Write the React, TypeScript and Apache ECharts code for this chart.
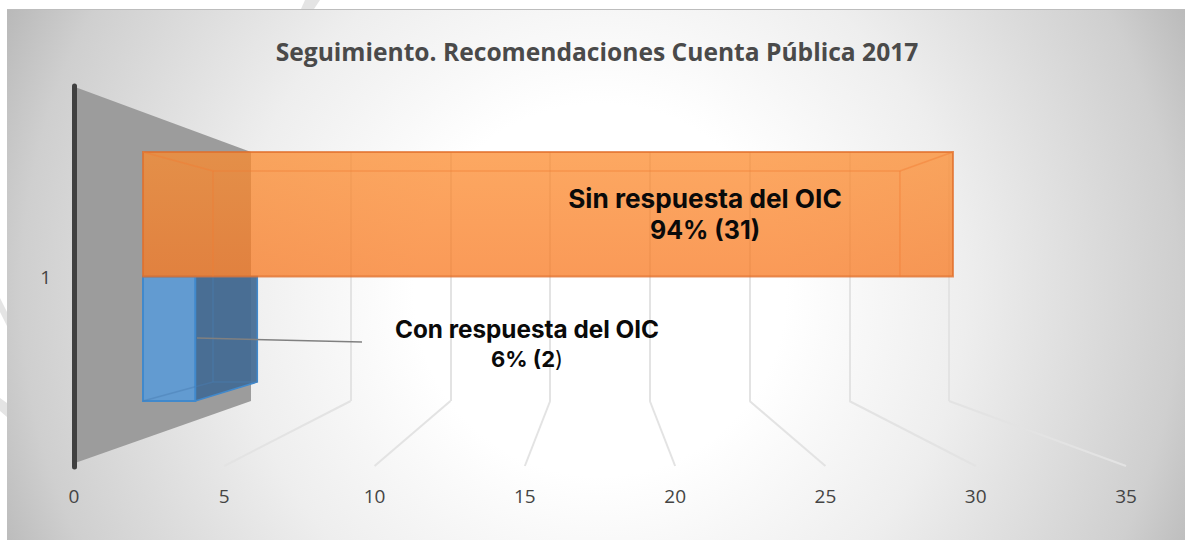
import React, { useEffect, useRef } from "react";
import * as echarts from "echarts";

const chartTitle = "Seguimiento. Recomendaciones Cuenta Pública 2017";
const categories = ["1"];
const xTicks = [5, 10, 15, 20, 25, 30, 35];
const answeredValue = [2];
const unansweredValue = [31];
const answeredLabel = "Con respuesta del OIC";
const unansweredLabel = "Sin respuesta del OIC";
const answeredPct = "6% (2";
const unansweredPct = "94% (31)";

const FRONT = { left: 74, top: 86, width: 1052, height: 381 };
const BACK = { left: 251, top: 152, width: 698, height: 249 };
const BARS = { left: 143, top: 152, width: 914.5, height: 249 };
const BAR_BACK_LEFT = 213;
const BAR_BACK_SCALE = 22.16 / 26.13;
const DEPTH_Y = 19;

const renderBar = (half: "top" | "bottom", look: any) => (_p: any, api: any) => {
  const v = api.value(0);
  const [x1, cy] = api.coord([v, 0]);
  const [x0] = api.coord([0, 0]);
  const band = api.size([0, 1])[1];
  const yTop = half === "top" ? cy - band / 2 : cy;
  const yBot = half === "top" ? cy : cy + band / 2;
  const bx0 = BAR_BACK_LEFT;
  const bx1 = BAR_BACK_LEFT + (x1 - x0) * BAR_BACK_SCALE;
  const inner = { stroke: look.inner, lineWidth: 1.5, fill: "none" };
  const line = (a: number, b: number, c: number, d: number) => ({
    type: "line",
    shape: { x1: a, y1: b, x2: c, y2: d },
    style: inner,
  });
  const children: any[] = [];
  if (half === "bottom") {
    children.push({
      type: "polygon",
      shape: { points: [[x1, yTop], [bx1, yTop], [bx1, yBot - DEPTH_Y], [x1, yBot]] },
      style: { fill: look.side, stroke: look.edge, lineWidth: 1.5 },
    });
    children.push(line(bx0, yTop, bx0, yBot - DEPTH_Y));
    children.push(line(x1, yBot - (DEPTH_Y * (x1 - x0)) / (bx0 - x0), bx0, yBot - DEPTH_Y));
    children.push(line(bx0, yBot - DEPTH_Y, bx1, yBot - DEPTH_Y));
  }
  children.push({
    type: "rect",
    shape: { x: x0, y: yTop, width: x1 - x0, height: yBot - yTop },
    style: { fill: look.front, stroke: look.edge, lineWidth: look.edgeWidth },
  });
  if (half === "bottom") {
    children.push(line(x0, yBot, x1, yBot - (DEPTH_Y * (x1 - x0)) / (bx0 - x0)));
  }
  if (half === "top") {
    children.push(line(x0, yTop, bx0, yTop + DEPTH_Y));
    children.push(line(x1, yTop, bx1, yTop + DEPTH_Y));
    children.push(line(bx0, yTop + DEPTH_Y, bx1, yTop + DEPTH_Y));
    children.push(line(bx0, yTop + DEPTH_Y, bx0, yBot));
    children.push(line(bx1, yTop + DEPTH_Y, bx1, yBot));
  }
  return { type: "group", children };
};

const renderFloorLine = (_p: any, api: any) => {
  const [fx] = api.coord([api.value(0), 0]);
  const bx = BACK.left + ((fx - FRONT.left) * BACK.width) / FRONT.width;
  return {
    type: "line",
    shape: { x1: bx, y1: BACK.top + BACK.height, x2: fx, y2: 466 },
    style: { stroke: "#e3e3e3", lineWidth: 2 },
  };
};

const grey = "#e4e4e4";
const labelFont = "Inter";

export default function App() {
  const ref = useRef<HTMLDivElement>(null);
  useEffect(() => {
    const chart = echarts.init(ref.current!, undefined, { renderer: "svg" });
    const hiddenX = { type: "value", min: 0, max: 35, interval: 5, show: false };
    chart.setOption({
      animation: false,
      title: {
        text: chartTitle,
        left: 592,
        top: 34,
        textAlign: "center",
        textStyle: { fontFamily: "Open Sans", fontWeight: "bold", fontSize: 24.6, color: "#4a4a4a" },
      },
      grid: [
        { ...FRONT, containLabel: false },
        { ...BACK, containLabel: false },
        { ...BARS, containLabel: false },
      ],
      xAxis: [
        {
          type: "value",
          gridIndex: 0,
          min: 0,
          max: 35,
          interval: 5,
          axisLine: { show: false },
          axisTick: { show: false },
          splitLine: { show: false },
          axisLabel: { fontFamily: "Open Sans", fontSize: 19, color: "#444444", margin: 19 },
        },
        {
          type: "value",
          gridIndex: 1,
          min: 0,
          max: 35,
          interval: 5,
          axisLine: { show: false },
          axisTick: { show: false },
          axisLabel: { show: false },
          splitLine: {
            show: true,
            showMinLine: false,
            lineStyle: { color: "#e3e3e3", width: 2 },
          },
        },
        { ...hiddenX, gridIndex: 2 },
      ],
      yAxis: [
        {
          type: "category",
          gridIndex: 0,
          data: categories,
          axisLine: { show: true, lineStyle: { color: "#404040", width: 5, cap: "round" } },
          axisTick: { show: false },
          axisLabel: { fontFamily: "Open Sans", fontSize: 19, color: "#444444", margin: 23, padding: [3, 0, 0, 0] },
        },
        { type: "category", gridIndex: 1, data: categories, show: false },
        { type: "category", gridIndex: 2, data: categories, show: false },
      ],
      series: [
        {
          type: "custom",
          name: "floor",
          xAxisIndex: 0,
          yAxisIndex: 0,
          silent: true,
          clip: false,
          z: 1,
          data: xTicks.map((v) => [v, 0]),
          renderItem: renderFloorLine,
        },
        {
          type: "custom",
          name: answeredLabel,
          xAxisIndex: 2,
          yAxisIndex: 2,
          silent: true,
          clip: false,
          z: 3,
          data: answeredValue.map((v) => [v, 0]),
          renderItem: renderBar("bottom", {
            front: "#629bd1",
            side: "rgba(66,106,148,0.92)",
            edge: "#4189cc",
            edgeWidth: 2,
            inner: "rgba(74,125,178,0.45)",
          }),
        },
        {
          type: "custom",
          name: unansweredLabel,
          xAxisIndex: 2,
          yAxisIndex: 2,
          silent: true,
          clip: false,
          z: 4,
          data: unansweredValue.map((v) => [v, 0]),
          renderItem: renderBar("top", {
            front: {
              type: "linear",
              x: 0,
              y: 0,
              x2: 0,
              y2: 1,
              colorStops: [
                { offset: 0, color: "rgba(252,139,45,0.75)" },
                { offset: 1, color: "rgba(248,120,32,0.75)" },
              ],
            },
            edge: "rgba(224,110,42,0.75)",
            edgeWidth: 2,
            inner: "rgba(242,125,50,0.45)",
          }),
        },
      ],
      graphic: [
        {
          type: "rect",
          z: -10,
          shape: { x: 7, y: 10, width: 1178, height: 530 },
          style: {
            fill: new echarts.graphic.RadialGradient(
              600,
              290,
              665,
              [
                { offset: 0, color: "#ffffff" },
                { offset: 0.28, color: "#ffffff" },
                { offset: 0.55, color: "#eeeeee" },
                { offset: 0.87, color: "#cfcfcf" },
                { offset: 1, color: "#b6b6b6" },
              ],
              true,
            ),
          },
        },
        { type: "line", z: -9, shape: { x1: 7, y1: 9.5, x2: 1185, y2: 9.5 }, style: { stroke: "#bdbdbd", lineWidth: 1 } },
        { type: "polygon", z: -9, shape: { points: [[305, 0], [320, 0], [314, 9], [301, 9]] }, style: { fill: grey } },
        { type: "polygon", z: -9, shape: { points: [[0, 298], [7, 312], [7, 326], [0, 312]] }, style: { fill: grey } },
        { type: "polygon", z: -9, shape: { points: [[0, 398], [7, 403], [7, 417], [0, 411]] }, style: { fill: grey } },
        {
          type: "polygon",
          z: 0,
          shape: { points: [[75, 87], [251, 152], [251, 401], [75, 463]] },
          style: { fill: "#9c9c9c" },
        },
        {
          type: "line",
          z: 50,
          shape: { x1: 197, y1: 338, x2: 362, y2: 342 },
          style: { stroke: "#808080", lineWidth: 1.5 },
        },
        {
          type: "text",
          z: 60,
          x: 705,
          y: 198,
          style: {
            text: unansweredLabel,
            fontFamily: labelFont,
            fontWeight: "bold",
            fontSize: 26.2,
            fill: "#0a0a0a",
            textAlign: "center",
            textVerticalAlign: "middle",
          },
        },
        {
          type: "text",
          z: 60,
          x: 705,
          y: 230,
          style: {
            text: unansweredPct,
            fontFamily: labelFont,
            fontWeight: "bold",
            fontSize: 25,
            fill: "#0a0a0a",
            textAlign: "center",
            textVerticalAlign: "middle",
          },
        },
        {
          type: "text",
          z: 60,
          x: 527,
          y: 329,
          style: {
            text: answeredLabel,
            fontFamily: labelFont,
            fontWeight: "bold",
            fontSize: 24.3,
            fill: "#0a0a0a",
            textAlign: "center",
            textVerticalAlign: "middle",
          },
        },
        {
          type: "text",
          z: 60,
          x: 527,
          y: 359,
          style: {
            text: `{b|${answeredPct}}{n|)}`,
            rich: {
              b: { fontFamily: labelFont, fontWeight: "bold", fontSize: 22, fill: "#0a0a0a" },
              n: { fontFamily: labelFont, fontSize: 22, fill: "#0a0a0a" },
            },
            textAlign: "center",
            textVerticalAlign: "middle",
          },
        },
      ],
    });
    return () => chart.dispose();
  }, []);
  return (
    <div
      ref={ref}
      style={{ position: "absolute", left: 0, top: 0, width: 1185, height: 540, background: "#ffffff" }}
    />
  );
}
